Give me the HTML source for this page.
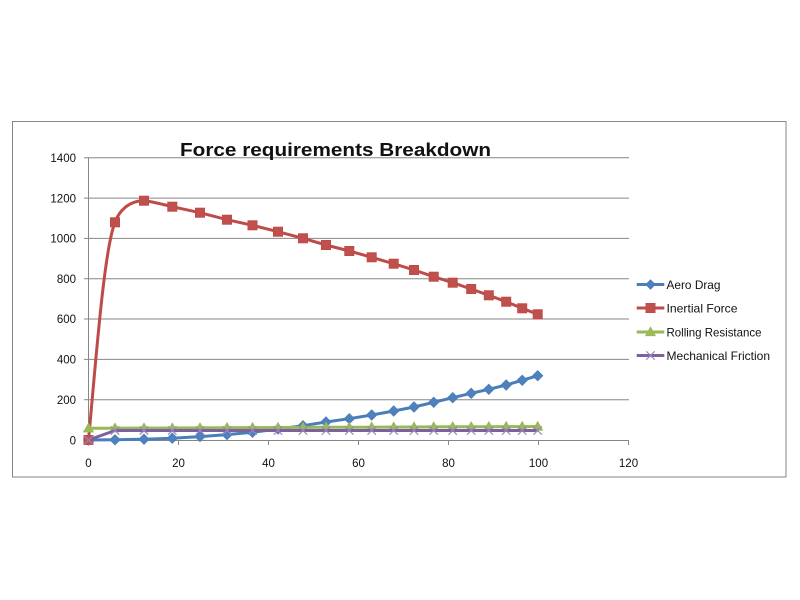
<!DOCTYPE html>
<html>
<head>
<meta charset="utf-8">
<style>
  html, body { margin: 0; padding: 0; background: #ffffff; }
  body { width: 800px; height: 600px; overflow: hidden; }
  svg { display: block; }
  text { font-family: "Liberation Sans", Arial, sans-serif; fill: #111111; }
</style>
</head>
<body>
<svg width="800" height="600" viewBox="0 0 800 600" xmlns="http://www.w3.org/2000/svg">
  <defs>
    <marker id="mDia" markerUnits="userSpaceOnUse" markerWidth="12" markerHeight="12" refX="6" refY="6" overflow="visible">
      <path d="M6,1 L11,6 L6,11 L1,6 Z" fill="#4F81BD" stroke="#4A7EBB" stroke-width="1"/>
    </marker>
    <marker id="mSq" markerUnits="userSpaceOnUse" markerWidth="12" markerHeight="12" refX="6" refY="6" overflow="visible">
      <rect x="1.5" y="1.5" width="9" height="9" fill="#C0504D" stroke="#BE4B48" stroke-width="1"/>
    </marker>
    <marker id="mTri" markerUnits="userSpaceOnUse" markerWidth="12" markerHeight="12" refX="6" refY="6" overflow="visible">
      <path d="M6,1.2 L10.8,9.6 L1.2,9.6 Z" fill="#9BBB59" stroke="#98B954" stroke-width="1"/>
    </marker>
    <marker id="mX" markerUnits="userSpaceOnUse" markerWidth="12" markerHeight="12" refX="6" refY="6" overflow="visible">
      <path d="M1.8,1.8 L10.2,10.2 M10.2,1.8 L1.8,10.2" stroke="#9a86b8" stroke-width="1.1" fill="none"/>
    </marker>
  </defs>

  <rect x="0" y="0" width="800" height="600" fill="#ffffff"/>
  <!-- chart border -->
  <rect x="12.5" y="121.5" width="773.5" height="355.5" fill="#ffffff" stroke="#868686" stroke-width="1"/>

  <!-- gridlines -->
  <g stroke="#868686" stroke-width="1">
    <line x1="88" y1="157.8" x2="629" y2="157.8"/>
    <line x1="88" y1="198.1" x2="629" y2="198.1"/>
    <line x1="88" y1="238.4" x2="629" y2="238.4"/>
    <line x1="88" y1="278.7" x2="629" y2="278.7"/>
    <line x1="88" y1="319.0" x2="629" y2="319.0"/>
    <line x1="88" y1="359.4" x2="629" y2="359.4"/>
    <line x1="88" y1="399.7" x2="629" y2="399.7"/>
    <line x1="84" y1="440.5" x2="629" y2="440.5"/>
    <!-- y axis -->
    <line x1="88.5" y1="157.8" x2="88.5" y2="440.5"/>
    <!-- y ticks -->
    <line x1="84" y1="157.8" x2="88" y2="157.8"/>
    <line x1="84" y1="198.1" x2="88" y2="198.1"/>
    <line x1="84" y1="238.4" x2="88" y2="238.4"/>
    <line x1="84" y1="278.7" x2="88" y2="278.7"/>
    <line x1="84" y1="319.0" x2="88" y2="319.0"/>
    <line x1="84" y1="359.4" x2="88" y2="359.4"/>
    <line x1="84" y1="399.7" x2="88" y2="399.7"/>
    <!-- x ticks -->
    <line x1="88.5" y1="440" x2="88.5" y2="445"/>
    <line x1="178.5" y1="440" x2="178.5" y2="445"/>
    <line x1="268.5" y1="440" x2="268.5" y2="445"/>
    <line x1="358.5" y1="440" x2="358.5" y2="445"/>
    <line x1="448.5" y1="440" x2="448.5" y2="445"/>
    <line x1="538.5" y1="440" x2="538.5" y2="445"/>
    <line x1="628.5" y1="440" x2="628.5" y2="445"/>
  </g>

  <!-- y labels -->
  <g font-size="11.5" text-anchor="end">
    <text x="76" y="162">1400</text>
    <text x="76" y="202.3">1200</text>
    <text x="76" y="242.6">1000</text>
    <text x="76" y="282.9">800</text>
    <text x="76" y="323.2">600</text>
    <text x="76" y="363.6">400</text>
    <text x="76" y="403.9">200</text>
    <text x="76" y="444.7">0</text>
  </g>
  <!-- x labels -->
  <g font-size="11.5" text-anchor="middle">
    <text x="88.5" y="467">0</text>
    <text x="178.5" y="467">20</text>
    <text x="268.5" y="467">40</text>
    <text x="358.5" y="467">60</text>
    <text x="448.5" y="467">80</text>
    <text x="538.5" y="467">100</text>
    <text x="628.5" y="467">120</text>
  </g>

  <!-- title -->
  <text x="180" y="156" font-size="18.5" font-weight="bold" textLength="311" lengthAdjust="spacingAndGlyphs" fill="#000">Force requirements Breakdown</text>

  <!-- Aero Drag -->
  <polyline fill="none" stroke="#4A7EBB" stroke-width="3" stroke-linejoin="round"
    marker-start="url(#mDia)" marker-mid="url(#mDia)" marker-end="url(#mDia)"
    points="88.5,440 115,439.8 144,439.2 172.3,438.2 200,436.6 227,434.6 252.5,432.3 278,429 303,425.7 326,422 349.3,418.7 371.7,415 393.7,411 414,407 433.7,402.3 452.7,397.7 471.2,393.3 488.8,389.3 506.2,385 522.2,380.3 537.7,375.7"/>

  <!-- Inertial Force -->
  <path fill="none" stroke="#BE4B48" stroke-width="3" stroke-linejoin="round"
    d="M88.5,440 C96,360 104,250 115,222.3 C119,211 129,200.5 144,200.7 C153,201.5 163,204.5 172.3,206.7 L200,212.7 L227,219.7 L252.5,225.3 L278,231.7 L303,238.3 L326,245 L349.3,251 L371.7,257.3 L393.7,263.7 L414,270 L433.7,276.7 L452.7,282.7 L471.2,289 L488.8,295.3 L506.2,301.7 L522.2,308.3 L537.7,314.3"/>
  <polyline fill="none" stroke="none"
    marker-start="url(#mSq)" marker-mid="url(#mSq)" marker-end="url(#mSq)"
    points="88.5,440 115,222.3 144,200.7 172.3,206.7 200,212.7 227,219.7 252.5,225.3 278,231.7 303,238.3 326,245 349.3,251 371.7,257.3 393.7,263.7 414,270 433.7,276.7 452.7,282.7 471.2,289 488.8,295.3 506.2,301.7 522.2,308.3 537.7,314.3"/>

  <!-- Rolling Resistance -->
  <polyline fill="none" stroke="#98B954" stroke-width="3" stroke-linejoin="round"
    marker-start="url(#mTri)" marker-mid="url(#mTri)" marker-end="url(#mTri)"
    points="88.5,428.3 115,428.2 144,428.1 172.3,428 200,427.9 227,427.7 252.5,427.6 278,427.5 303,427.4 326,427.3 349.3,427.3 371.7,427.2 393.7,427.1 414,427 433.7,426.9 452.7,426.8 471.2,426.8 488.8,426.7 506.2,426.6 522.2,426.6 537.7,426.5"/>

  <!-- Mechanical Friction -->
  <polyline fill="none" stroke="#7D60A0" stroke-width="3" stroke-linejoin="round"
    marker-start="url(#mX)" marker-mid="url(#mX)" marker-end="url(#mX)"
    points="88.5,440 115,430.5 144,430.5 172.3,430.5 200,430.5 227,430.5 252.5,430.5 278,430.5 303,430.5 326,430.5 349.3,430.5 371.7,430.5 393.7,430.5 414,430.5 433.7,430.5 452.7,430.5 471.2,430.5 488.8,430.5 506.2,430.5 522.2,430.5 537.7,430.5"/>

  <!-- Legend -->
  <g>
    <line x1="636.7" y1="284.5" x2="664.3" y2="284.5" stroke="#4A7EBB" stroke-width="3"/>
    <path d="M650.5,280 L655,284.5 L650.5,289 L646,284.5 Z" fill="#4F81BD" stroke="#4A7EBB" stroke-width="1"/>
    <text x="666.5" y="288.8" font-size="12" textLength="54" lengthAdjust="spacingAndGlyphs">Aero Drag</text>

    <line x1="636.7" y1="308" x2="664.3" y2="308" stroke="#BE4B48" stroke-width="3"/>
    <rect x="646" y="303.5" width="9" height="9" fill="#C0504D" stroke="#BE4B48" stroke-width="1"/>
    <text x="666.5" y="312.3" font-size="12" textLength="71" lengthAdjust="spacingAndGlyphs">Inertial Force</text>

    <line x1="636.7" y1="332" x2="664.3" y2="332" stroke="#98B954" stroke-width="3"/>
    <path d="M650.5,327.3 L655.2,335.6 L645.8,335.6 Z" fill="#9BBB59" stroke="#98B954" stroke-width="1"/>
    <text x="666.5" y="336.3" font-size="12" textLength="95" lengthAdjust="spacingAndGlyphs">Rolling Resistance</text>

    <line x1="636.7" y1="355.5" x2="664.3" y2="355.5" stroke="#7D60A0" stroke-width="3"/>
    <path d="M646.3,351.3 L654.7,359.7 M654.7,351.3 L646.3,359.7" stroke="#9a86b8" stroke-width="1.1" fill="none"/>
    <text x="666.5" y="359.8" font-size="12" textLength="103.5" lengthAdjust="spacingAndGlyphs">Mechanical Friction</text>
  </g>
</svg>
</body>
</html>
